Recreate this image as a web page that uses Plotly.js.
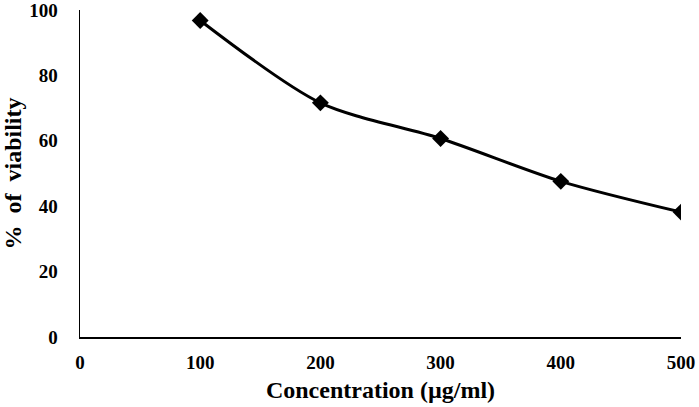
<!DOCTYPE html>
<html>
<head>
<script src="https://cdn.plot.ly/plotly-3.0.1.min.js"></script>
<style>html,body{margin:0;padding:0;background:#fff;}#chart{width:699px;height:407px;}</style>
</head>
<body>
<div id="chart"></div>
<script>
const concentration = [100, 200, 300, 400, 500];
const viability = [96.8, 71.6, 60.7, 47.6, 38.2];
const xTicks = [0, 100, 200, 300, 400, 500];
const yTicks = [0, 20, 40, 60, 80, 100];

const fam = '"Liberation Serif", "Times New Roman", serif';

Plotly.newPlot('chart', [{
  x: concentration,
  y: viability,
  mode: 'lines+markers',
  line: {color: '#000', width: 3, shape: 'spline', smoothing: 0.8},
  marker: {symbol: 'diamond', size: 13, color: '#000'},
  showlegend: false
}], {
  width: 699, height: 407,
  margin: {l: 80, r: 18, t: 10, b: 70},
  paper_bgcolor: '#fff', plot_bgcolor: '#fff',
  font: {family: fam, color: '#000'},
  xaxis: {
    range: [0, 500], tickvals: xTicks, ticktext: xTicks.map(String),
    showgrid: false, zeroline: false, showline: true, linecolor: '#000', linewidth: 1.5,
    ticks: 'outside', ticklen: 8, tickcolor: 'rgba(0,0,0,0)',
    ticklabeloverflow: 'allow',
    tickfont: {family: fam, size: 19, color: '#000', weight: 'bold'},
    title: {text: '<b>Concentration (µg/ml)</b>', font: {family: fam, size: 24, color: '#000'}, standoff: 9}
  },
  yaxis: {
    range: [0, 100], tickvals: yTicks, ticktext: yTicks.map(String),
    showgrid: false, zeroline: false, showline: true, linecolor: '#000', linewidth: 1.5,
    ticks: 'outside', ticklen: 17, tickcolor: 'rgba(0,0,0,0)',
    ticklabeloverflow: 'allow',
    tickfont: {family: fam, size: 19, color: '#000', weight: 'bold'},
    title: {text: '<b>%&nbsp;&nbsp;of&nbsp;&nbsp;viability</b>', font: {family: fam, size: 24, color: '#000'}, standoff: 13}
  }
}, {staticPlot: true});
</script>
</body>
</html>
